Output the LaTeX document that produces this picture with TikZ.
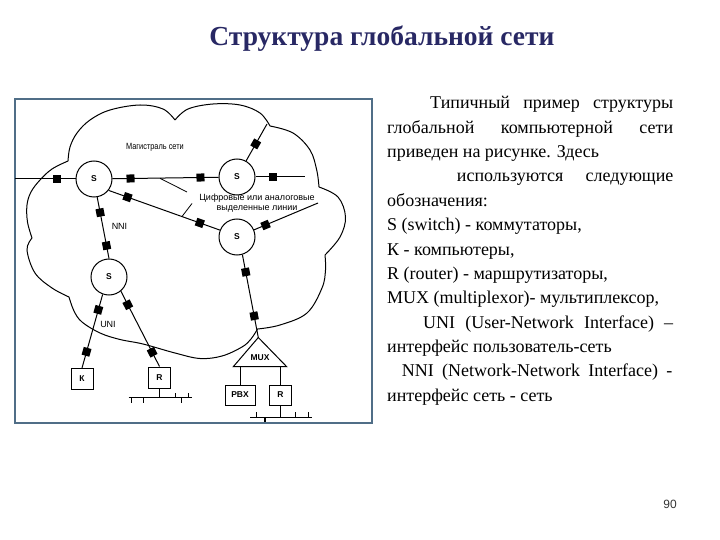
\documentclass[tikz,border=0pt]{standalone}
\usepackage{fontspec}
\setmainfont{Liberation Serif}
\newfontfamily\diag{Liberation Sans}
\usetikzlibrary{calc}
\definecolor{framec}{RGB}{80,110,135}
\definecolor{titlec}{RGB}{40,40,100}
\begin{document}
\begin{tikzpicture}[x=1pt,y=-1pt,
  ln/.style={line width=1pt},
  thinln/.style={line width=0.8pt},
  sw/.style={circle,draw,line width=1pt,minimum size=36pt,inner sep=0pt,font=\diag\bfseries\fontsize{8.5}{9}\selectfont},
  bx/.style={draw,line width=1pt,inner sep=0pt,minimum height=21pt,font=\diag\bfseries\fontsize{8.5}{9}\selectfont},
  sq/.style={fill=black,minimum size=8pt,inner sep=0pt,sloped},
  lbl/.style={font=\diag\fontsize{9}{9.5}\selectfont,inner sep=0pt},
  tx/.style={anchor=base west,inner sep=0pt,font=\fontsize{18}{18}\selectfont},
]
\useasboundingbox (0,0) rectangle (720,540);

% title
\node[anchor=base,inner sep=0pt,font=\bfseries\fontsize{27.5}{28}\selectfont,text=titlec] (title) at (382,46) {Структура глобальной сети};

% frame
\draw[framec,line width=1.3pt] (15,99) rectangle (372,423);

% cloud
\draw[ln]
  plot[smooth,tension=0.6] coordinates {(68,161) (70,147) (77,133) (90,120) (110,110) (140,105) (163,109) (175,120)}
  plot[smooth,tension=0.6] coordinates {(175,120) (188,109) (213,104) (240,105) (260,113) (270,126)}
  plot[smooth,tension=0.6] coordinates {(270,126) (293,133) (310,150) (316.7,170) (319,187)}
  plot[smooth,tension=0.6] coordinates {(319,187) (338,197) (345.5,217) (340,237) (325,255)}
  plot[smooth,tension=0.6] coordinates {(325,255) (325.5,270) (322,288) (307,313) (280,325) (257.5,329)}
  plot[smooth,tension=0.6] coordinates {(257.5,329) (251,339) (242,347) (222,356) (200,358.5) (175,353) (143,344) (120,339.5) (100,333) (82,322) (74,311) (69,297)}
  plot[smooth,tension=0.6] coordinates {(69,297) (52,288) (35,273) (27,250) (32,238)}
  plot[smooth,tension=0.6] coordinates {(32,238) (27.5,222) (27,205) (31,192) (40,180) (52,169) (68,161)};

% switches
\node[sw] (S1) at (94,179) {S};
\node[sw] (S2) at (237,177) {S};
\node[sw] (S3) at (237,237) {S};
\node[sw] (S4) at (109,277) {S};

% end devices
\node[bx,minimum width=22pt] (K) at (82,379) {К};
\node[bx,minimum width=22pt] (R1) at (159.5,377.5) {R};
\node[bx,minimum width=30pt,minimum height=20pt] (PBX) at (240,395) {PBX};
\node[bx,minimum width=22pt,minimum height=20pt] (R2) at (280.5,395) {R};

% MUX
\coordinate (muxA) at (258.3,337.5);
\coordinate (muxL) at (233.3,366.7);
\coordinate (muxR) at (286.7,366.7);
\draw[ln] (muxA) -- (muxL) -- (muxR) -- cycle;
\node[inner sep=0pt,font=\diag\bfseries\fontsize{8.5}{9}\selectfont] (MUX) at (260,358) {MUX};

% free ends
\coordinate (L1) at (15,179);
\coordinate (E2) at (305,177);
\coordinate (U2) at (267,124);
\coordinate (E3) at (318,203);

% links
\draw[ln] (L1) -- (S1) node[sq,pos=0.70]{};
\draw[ln] (S1) -- (S2) node[sq,pos=0.17]{} node[sq,pos=0.83]{};
\draw[ln] (S2) -- (E2) node[sq,pos=0.35]{};
\draw[ln] (S2) -- (U2) node[sq,pos=0.46]{};
\draw[ln] (S1.-38) -- (S3.158) node[sq,pos=0.17]{} node[sq,pos=0.82]{};
\draw[ln] (S3) -- (E3) node[sq,pos=0.18]{};
\draw[ln] (S1.-80) -- (S4.north) node[sq,pos=0.25]{} node[sq,pos=0.79]{};
\draw[ln] (S4.-110) -- (K.north) node[sq,pos=0.21]{} node[sq,pos=0.78]{};
\draw[ln] (S4.-50) -- (R1.north) node[sq,pos=0.18]{} node[sq,pos=0.81]{};
\draw[ln] (S3.-73) -- (muxA) node[sq,pos=0.21]{} node[sq,pos=0.74]{};
\draw[ln] (PBX.north) -- (PBX.north |- muxL);
\draw[ln] (R2.north) -- (R2.north |- muxL);

% LAN buses
\coordinate (b1L) at (128.5,397.5);
\coordinate (b1R) at (191.7,397.5);
\draw[ln] (R1.south) -- (R1.south |- b1L);
\draw[ln] (b1L) -- (b1R);
\draw[thinln] (131.7,397.5) -- ++(0,5) (143.3,397.5) -- ++(0,5) (181,397.5) -- ++(0,5)
  (175,397.5) -- ++(0,-5) (188.3,397.5) -- ++(0,-5);
\coordinate (b2L) at (250,417.3);
\coordinate (b2R) at (311.7,417.3);
\draw[ln] (R2.south) -- (R2.south |- b2L);
\draw[ln] (b2L) -- (b2R);
\draw[thinln] (256.7,417.3) -- ++(0,-5) (295,417.3) -- ++(0,-5) (308,417.3) -- ++(0,-5);
\draw[line width=1.4pt] (265,417.3) -- ++(0,5);

% labels
\node[lbl] (mag) at (155,147) {\scalebox{0.82}[1]{Магистраль сети}};
\node[lbl,align=center] (dig) at (257,203) {Цифровые или аналоговые\\выделенные линии};
\node[lbl] (nni) at (119.5,226) {NNI};
\node[lbl] (uni) at (108,324.5) {UNI};
\coordinate (p1) at (160,178.3);
\coordinate (p2) at (187,192);
\coordinate (p3) at (182,216.5);
\coordinate (p4) at (192,203.5);
\draw[thinln] (p1) -- (p2);
\draw[thinln] (p3) -- (p4);

% text
\node[tx] (t1) at (430,109) {\makebox[243pt][s]{Типичный пример структуры}};
\node[tx] (t2) at (387,133.3) {\makebox[286pt][s]{глобальной компьютерной сети}};
\node[tx] (t3) at (387,157.7) {приведен на рисунке. Здесь};
\node[tx] (t4) at (456.7,182) {\makebox[216.5pt][s]{используются следующие}};
\node[tx] (t5) at (387,206.3) {обозначения:};
\node[tx] (t6) at (387,230.7) {S (switch) - коммутаторы,};
\node[tx] (t7) at (387,255) {К - компьютеры,};
\node[tx] (t8) at (387,279.3) {R (router) - маршрутизаторы,};
\node[tx] (t9) at (387,303.7) {MUX (multiplexor)- мультиплексор,};
\node[tx] (t10) at (423,328) {\makebox[250pt][s]{UNI (User-Network Interface) –}};
\node[tx] (t11) at (387,352.3) {интерфейс пользователь-сеть};
\node[tx] (t12) at (401.7,376.7) {\makebox[270.5pt][s]{NNI (Network-Network Interface) -}};
\node[tx] (t13) at (387,401) {интерфейс сеть - сеть};

% page number
\node[inner sep=0pt,font=\diag\fontsize{12}{12}\selectfont,text=black!80] (pg) at (670,504) {90};
\end{tikzpicture}
\end{document}
